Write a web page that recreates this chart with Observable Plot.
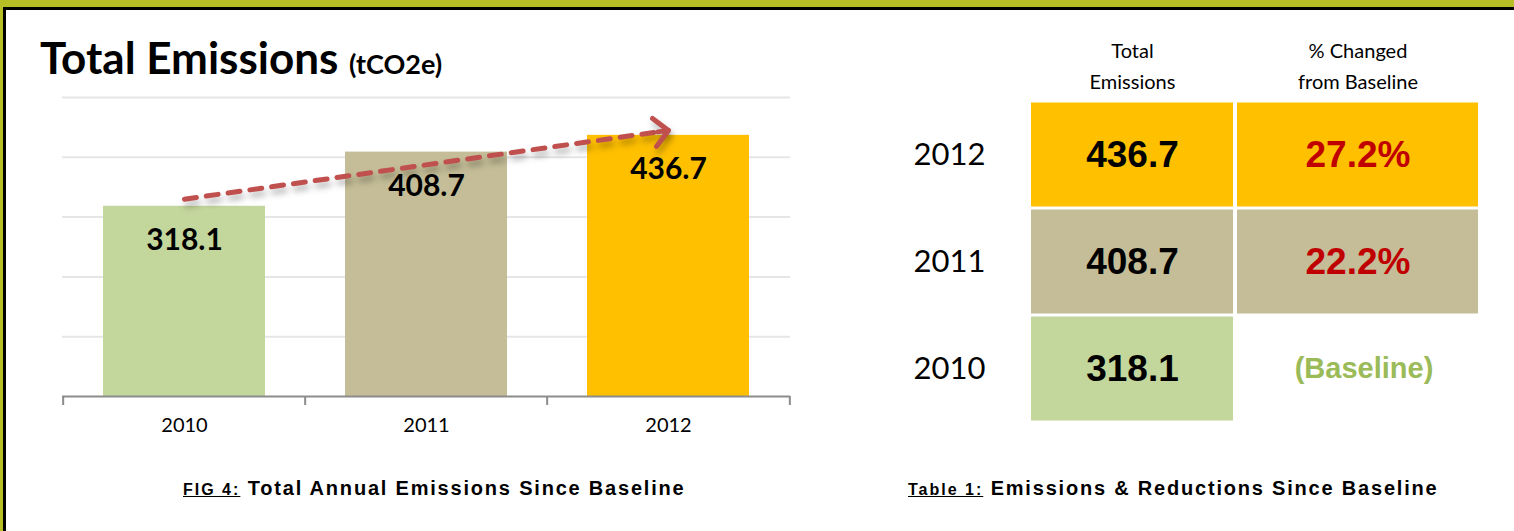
<!DOCTYPE html>
<html><head><meta charset="utf-8">
<script src="https://cdn.jsdelivr.net/npm/d3@7"></script>
<script src="https://cdn.jsdelivr.net/npm/@observablehq/plot@0.6"></script>
<style>
html,body{margin:0;padding:0;background:#fff;}
#page{position:relative;width:1514px;height:531px;overflow:hidden;background:#fff;font-family:Lato,sans-serif;color:#000;}
.olive-top{position:absolute;left:0;top:0;width:1514px;height:7px;background:#b7bd24;}
.olive-left{position:absolute;left:0;top:0;width:3px;height:531px;background:#b7bd24;}
.black-top{position:absolute;left:3px;top:7px;width:1511px;height:3px;background:#000;}
.black-left{position:absolute;left:3px;top:7px;width:3px;height:524px;background:#000;}
#title{position:absolute;left:40px;top:35px;font-weight:700;font-size:44px;line-height:44px;white-space:nowrap;}
#title span{font-size:27px;}
.cap{position:absolute;top:478px;font-family:"Liberation Sans",Arial,sans-serif;font-weight:700;font-size:20px;letter-spacing:1.8px;white-space:nowrap;line-height:20px;}
.cap u{font-size:16px;letter-spacing:2px;}
#chart{position:absolute;left:0;top:80px;}
#t1{position:absolute;left:880px;top:30px;}
#t2{position:absolute;left:1235px;top:30px;}
</style></head><body>
<div id="page">
  <div class="olive-top"></div><div class="olive-left"></div>
  <div class="black-top"></div><div class="black-left"></div>
  <div id="title">Total Emissions <span>(tCO2e)</span></div>
  <div id="chart"></div>
  <div id="t1"></div>
  <div id="t2"></div>
  <div class="cap" style="left:183px"><u>FIG 4:</u> Total Annual Emissions Since Baseline</div>
  <div class="cap" style="left:908px"><u>Table 1:</u> Emissions &amp; Reductions Since Baseline</div>
</div>
<script>
// ---- data ----
const years = ["2010", "2011", "2012"];
const emissions = [318.1, 408.7, 436.7];
const pctChange = [null, 22.2, 27.2];
const baselineLabel = "(Baseline)";
const yTicks = [100, 200, 300, 400, 500];
const yMax = 500;
const barColors = ["#c3d69b", "#c4bd97", "#ffc000"];
const trendFrom = 330;   // trend arrow start value (at 2010)
const trendTo = 445;     // trend arrow end value (at 2012)
const columnHeaders = ["Total\nEmissions", "% Changed\nfrom Baseline"];

const bars = years.map((y, i) => ({year: y, value: emissions[i]}));
const rows = years.map((y, i) => ({year: y, emissions: emissions[i], pct: pctChange[i]}));
const trend = [{x1: years[0], y1: trendFrom, x2: years[years.length - 1], y2: trendTo}];

// ---- bar chart ----
const W = 820, H = 370, mL = 62, mR = 30, mT = 17, mB = 54;
const bw = (W - mL - mR) / years.length;
const plotH = H - mT - mB;
const xc = i => mL + bw * (i + 0.5);
const yp = v => mT + (1 - v / yMax) * plotH;
const L = Math.hypot(xc(years.length - 1) - xc(0), yp(trendTo) - yp(trendFrom));
const arrowColor = "#c0504d";
const axisGray = "#8c8c8c";

const chart = Plot.plot({
  width: W, height: H, marginLeft: mL, marginRight: mR, marginTop: mT, marginBottom: mB,
  style: {fontFamily: "Lato, sans-serif", color: "#000", background: "transparent", overflow: "visible"},
  x: {domain: years, padding: 0, axis: null},
  y: {domain: [0, yMax], axis: null},
  color: {domain: years, range: barColors},
  marks: [
    Plot.gridY(yTicks, {stroke: "#e6e6e6", strokeOpacity: 1, strokeWidth: 2}),
    Plot.barY(bars, {x: "year", y: "value", fill: "year", insetLeft: 40, insetRight: 40}),
    Plot.ruleY([0], {stroke: axisGray, strokeWidth: 2}),
    Plot.ruleX(years, {x: d => d, y1: 0, y2: 0, insetBottom: -9, dx: -bw / 2, stroke: axisGray, strokeWidth: 2}),
    Plot.ruleX(years.slice(-1), {x: d => d, y1: 0, y2: 0, insetBottom: -9, dx: bw / 2, stroke: axisGray, strokeWidth: 2}),
    Plot.axisX({tickSize: 0, tickPadding: 21, fontSize: 20, label: null}),
    Plot.text(bars, {x: "year", y: "value", text: d => d.value.toFixed(1), dy: 34, fontSize: 30, fontWeight: "bold", fill: "#000"}),
    Plot.arrow(trend, {x1: "x1", y1: "y1", x2: "x2", y2: "y2", headLength: 0, insetEnd: 4,
      stroke: arrowColor, strokeWidth: 5, strokeDasharray: "12,10", strokeLinecap: "round"}),
    Plot.arrow(trend, {x1: "x1", y1: "y1", x2: "x2", y2: "y2", headLength: 6, headAngle: 90, insetStart: L - 12,
      stroke: arrowColor, strokeWidth: 5, strokeLinecap: "round", strokeLinejoin: "round"})
  ]
});
chart.querySelectorAll('g[aria-label="arrow"]').forEach(g => g.style.filter = "drop-shadow(2px 5px 3px rgba(0,0,0,0.3))");
document.getElementById("chart").append(chart);

// ---- table ----
const tH = 400, tMT = 70, tMB = 8;
const rowOrder = [...years].reverse();
const numFont = "'Liberation Sans', Arial, sans-serif";

const t1 = Plot.plot({
  width: 355, height: tH, marginLeft: 151, marginRight: 2, marginTop: tMT, marginBottom: tMB,
  style: {fontFamily: "Lato, sans-serif", color: "#000", background: "transparent", overflow: "visible"},
  x: {domain: [columnHeaders[0]], padding: 0, axis: null},
  y: {domain: rowOrder, padding: 0, axis: null},
  color: {domain: years, range: barColors},
  marks: [
    Plot.cell(rows, {x: () => columnHeaders[0], y: "year", fill: "year", insetTop: 1.5, insetBottom: 1.5}),
    Plot.text(rows, {x: () => columnHeaders[0], y: "year", text: d => d.emissions.toFixed(1),
      fontSize: 37, fontWeight: "bold", fontFamily: numFont, fill: "#000"}),
    Plot.axisY({tickSize: 0, tickPadding: 46, fontSize: 31, label: null}),
    Plot.text([columnHeaders[0]], {x: d => d, text: d => d, frameAnchor: "top", lineAnchor: "bottom", dy: -12,
      fontSize: 20, lineHeight: 1.55, fill: "#000"})
  ]
});
document.getElementById("t1").append(t1);

const t2 = Plot.plot({
  width: 245, height: tH, marginLeft: 2, marginRight: 2, marginTop: tMT, marginBottom: tMB,
  style: {fontFamily: "Lato, sans-serif", color: "#000", background: "transparent", overflow: "visible"},
  x: {domain: [columnHeaders[1]], padding: 0, axis: null},
  y: {domain: rowOrder, padding: 0, axis: null},
  color: {domain: years, range: barColors},
  marks: [
    Plot.cell(rows.filter(d => d.pct != null), {x: () => columnHeaders[1], y: "year", fill: "year", insetTop: 1.5, insetBottom: 1.5}),
    Plot.text(rows.filter(d => d.pct != null), {x: () => columnHeaders[1], y: "year", text: d => d.pct.toFixed(1) + "%",
      fontSize: 37, fontWeight: "bold", fontFamily: numFont, fill: "#c00000"}),
    Plot.text(rows.filter(d => d.pct == null), {x: () => columnHeaders[1], y: "year", text: () => baselineLabel,
      fontSize: 29, fontWeight: "bold", fontFamily: numFont, fill: "#9bbb59", dx: 6}),
    Plot.text([columnHeaders[1]], {x: d => d, text: d => d, frameAnchor: "top", lineAnchor: "bottom", dy: -12,
      fontSize: 20, lineHeight: 1.55, fill: "#000"})
  ]
});
document.getElementById("t2").append(t2);
</script>
</body></html>
